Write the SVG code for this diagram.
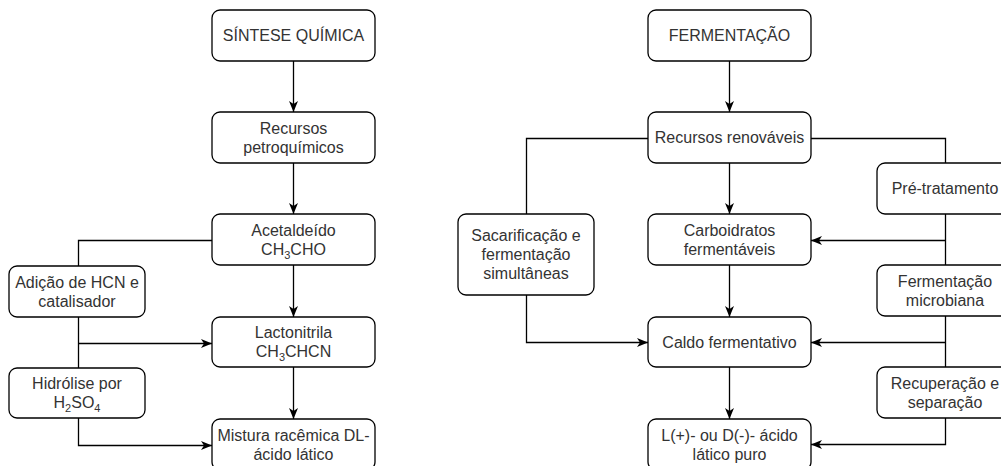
<svg xmlns="http://www.w3.org/2000/svg" width="1001" height="466" viewBox="0 0 1001 466">
<style>
.box{fill:#fff;stroke:#000;stroke-width:1.3}
.t{font-family:"Liberation Sans",Arial,sans-serif;font-size:16px;fill:#333;text-anchor:middle}
.c{fill:none;stroke:#000;stroke-width:1.3}
.sub{font-size:11px}
</style>
<defs>
<marker id="ah" viewBox="0 0 11 10" refX="11" refY="5" markerWidth="11" markerHeight="10" markerUnits="userSpaceOnUse" orient="auto">
<path d="M0,0.5 L11,5 L0,9.5 L3,5 z" fill="#000"/>
</marker>
</defs>
<rect width="1001" height="466" fill="#fff"/>
<g id="connectors">
<path class="c" d="M293.5,61 V112" marker-end="url(#ah)"/>
<path class="c" d="M293.5,163 V214" marker-end="url(#ah)"/>
<path class="c" d="M293.5,265 V317" marker-end="url(#ah)"/>
<path class="c" d="M293.5,367 V419" marker-end="url(#ah)"/>
<path class="c" d="M212,240.5 H78.5 V266"/>
<path class="c" d="M78.5,317 V368"/>
<path class="c" d="M78.5,343.5 H212" marker-end="url(#ah)"/>
<path class="c" d="M78.5,418 V445.5 H212" marker-end="url(#ah)"/>
<path class="c" d="M729.5,61 V112" marker-end="url(#ah)"/>
<path class="c" d="M729.5,163 V214" marker-end="url(#ah)"/>
<path class="c" d="M729.5,265 V317" marker-end="url(#ah)"/>
<path class="c" d="M729.5,367 V419" marker-end="url(#ah)"/>
<path class="c" d="M648,138.5 H526.5 V214"/>
<path class="c" d="M526.5,295 V342.5 H648" marker-end="url(#ah)"/>
<path class="c" d="M811,138.5 H945.5 V163"/>
<path class="c" d="M945.5,214 V265"/>
<path class="c" d="M945.5,240.5 H811" marker-end="url(#ah)"/>
<path class="c" d="M945.5,316 V367"/>
<path class="c" d="M945.5,342.5 H811" marker-end="url(#ah)"/>
<path class="c" d="M945.5,418 V444.5 H811" marker-end="url(#ah)"/>
</g>
<g id="n_sintese"><rect class="box" x="212" y="10" width="163" height="51" rx="8"/><text class="t" x="293.5" y="41">SÍNTESE QUÍMICA</text></g>
<g id="n_petro"><rect class="box" x="212" y="112" width="163" height="51" rx="8"/><text class="t" x="293.5" y="133.5">Recursos</text><text class="t" x="293.5" y="152.5">petroquímicos</text></g>
<g id="n_acet"><rect class="box" x="212" y="214" width="163" height="51" rx="8"/><text class="t" x="293.5" y="235.5">Acetaldeído</text><text class="t" x="293.5" y="254.5">CH<tspan class="sub" dy="4">3</tspan><tspan dy="-4">CHO</tspan></text></g>
<g id="n_adicao"><rect class="box" x="9" y="266" width="136" height="51" rx="8"/><text class="t" x="77" y="287.5">Adição de HCN e</text><text class="t" x="77" y="306.5">catalisador</text></g>
<g id="n_lacto"><rect class="box" x="212" y="317" width="163" height="50" rx="8"/><text class="t" x="293.5" y="338">Lactonitrila</text><text class="t" x="293.5" y="357">CH<tspan class="sub" dy="4">3</tspan><tspan dy="-4">CHCN</tspan></text></g>
<g id="n_hidrolise"><rect class="box" x="9" y="368" width="136" height="50" rx="8"/><text class="t" x="77" y="389">Hidrólise por</text><text class="t" x="77" y="408">H<tspan class="sub" dy="4">2</tspan><tspan dy="-4">SO</tspan><tspan class="sub" dy="4">4</tspan></text></g>
<g id="n_mistura"><rect class="box" x="212" y="419" width="163" height="51" rx="8"/><text class="t" x="293.5" y="440.5">Mistura racêmica DL-</text><text class="t" x="293.5" y="459.5">ácido lático</text></g>
<g id="n_ferm"><rect class="box" x="648" y="10" width="163" height="51" rx="8"/><text class="t" x="729.5" y="41">FERMENTAÇÃO</text></g>
<g id="n_renov"><rect class="box" x="648" y="112" width="163" height="51" rx="8"/><text class="t" x="729.5" y="143">Recursos renováveis</text></g>
<g id="n_sac"><rect class="box" x="458" y="214" width="136" height="81" rx="8"/><text class="t" x="526" y="241">Sacarificação e</text><text class="t" x="526" y="260">fermentação</text><text class="t" x="526" y="279">simultâneas</text></g>
<g id="n_carbo"><rect class="box" x="648" y="214" width="163" height="51" rx="8"/><text class="t" x="729.5" y="235.5">Carboidratos</text><text class="t" x="729.5" y="254.5">fermentáveis</text></g>
<g id="n_caldo"><rect class="box" x="648" y="317" width="163" height="50" rx="8"/><text class="t" x="729.5" y="347.5">Caldo fermentativo</text></g>
<g id="n_lpuro"><rect class="box" x="648" y="419" width="163" height="51" rx="8"/><text class="t" x="729.5" y="440.5">L(+)- ou D(-)- ácido</text><text class="t" x="729.5" y="459.5">lático puro</text></g>
<g id="n_pre"><rect class="box" x="877" y="163" width="136" height="51" rx="8"/><text class="t" x="945" y="194">Pré-tratamento</text></g>
<g id="n_micro"><rect class="box" x="877" y="265" width="136" height="51" rx="8"/><text class="t" x="945" y="286.5">Fermentação</text><text class="t" x="945" y="305.5">microbiana</text></g>
<g id="n_recup"><rect class="box" x="877" y="367" width="136" height="51" rx="8"/><text class="t" x="945" y="388.5">Recuperação e</text><text class="t" x="945" y="407.5">separação</text></g>
</svg>
